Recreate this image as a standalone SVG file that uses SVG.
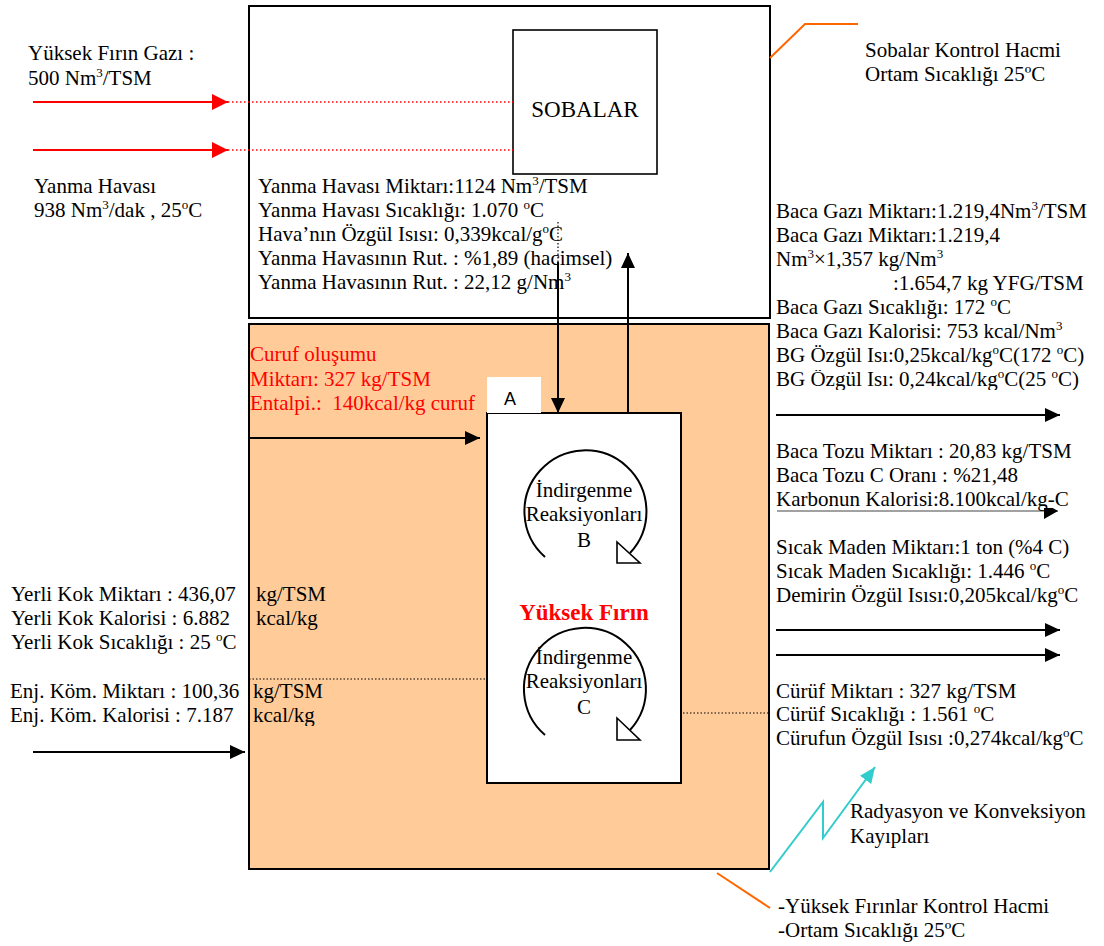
<svg xmlns="http://www.w3.org/2000/svg" width="1104" height="946" viewBox="0 0 1104 946">
<style>
text{font-family:"Liberation Serif","Times New Roman",serif;font-size:21px;fill:#000}
.s{font-size:13px}
.red{fill:#FF0000}
.box{fill:#fff;stroke:#000;stroke-width:2}
.ln{stroke:#000;stroke-width:2;fill:none}
.dot{stroke:#000;stroke-width:1.2;stroke-dasharray:1.5 2;fill:none}
.rdot{stroke:#FF0000;stroke-width:1.5;stroke-dasharray:1.5 2.5;fill:none}
.lead{stroke:#FF6600;stroke-width:2;fill:none}
</style>
<defs>
<marker id="ah" viewBox="0 0 15 14" refX="15" refY="7" markerWidth="15" markerHeight="14" orient="auto" markerUnits="userSpaceOnUse"><path d="M0,0 L15,7 L0,14 z" fill="#000"/></marker>
<marker id="rah" viewBox="0 0 16 16" refX="16" refY="8" markerWidth="16" markerHeight="16" orient="auto" markerUnits="userSpaceOnUse"><path d="M0,0 L16,8 L0,16 z" fill="#FF0000"/></marker>
<marker id="cah" viewBox="0 0 16 14" refX="16" refY="7" markerWidth="16" markerHeight="14" orient="auto" markerUnits="userSpaceOnUse"><path d="M0,0 L16,7 L0,14 z" fill="#33CCCC"/></marker>
<clipPath id="c1"><rect x="770" y="370" width="334" height="20"/></clipPath>
<clipPath id="c2"><rect x="240" y="700" width="100" height="26"/></clipPath>
<clipPath id="c3"><rect x="770" y="508" width="334" height="12"/></clipPath>
</defs>
<rect width="1104" height="946" fill="#fff"/>

<g id="sobalar-kontrol">
<rect x="249" y="6" width="521" height="312" class="box"/>
</g>
<g id="yf-kontrol">
<rect x="249" y="324" width="520" height="545" fill="#FFCC99" stroke="#000" stroke-width="2"/>
</g>
<g id="sobalar">
<rect x="513" y="30" width="144" height="144" fill="#fff" stroke="#000" stroke-width="1.6"/>
<text x="585" y="117" text-anchor="middle" style="font-size:23px">SOBALAR</text>
</g>
<g id="yuksek-firin">
<rect x="487" y="413" width="194" height="370" class="box"/>
<rect x="487" y="377" width="54" height="36" fill="#fff"/>
<text x="510" y="405" text-anchor="middle" style="font-family:'Liberation Sans',Arial,sans-serif;font-size:18px">A</text>
<text x="584" y="620" text-anchor="middle" class="red" style="font-weight:bold;font-size:23px">Yüksek Fırın</text>
</g>
<g id="reaksiyon-b">
<path d="M545,557 A61,61 0 1 1 630,553" class="ln" stroke-width="3"/>
<polygon points="617,542 617,563 640,563" fill="#fff" stroke="#000" stroke-width="1.6"/>
<text x="584" y="497" text-anchor="middle">İndirgenme</text>
<text x="584" y="521" text-anchor="middle">Reaksiyonları</text>
<text x="584" y="547" text-anchor="middle">B</text>
</g>
<g id="reaksiyon-c">
<path d="M545,735 A61,61 0 1 1 630,730" class="ln" stroke-width="3"/>
<polygon points="617,718 617,740 640,740" fill="#fff" stroke="#000" stroke-width="1.6"/>
<text x="584" y="664" text-anchor="middle">İndirgenme</text>
<text x="584" y="688" text-anchor="middle">Reaksiyonları</text>
<text x="584" y="714" text-anchor="middle">C</text>
</g>

<g id="connectors">
<line x1="33" y1="102" x2="228" y2="102" stroke="#FF0000" stroke-width="2" marker-end="url(#rah)"/>
<line x1="33" y1="150" x2="228" y2="150" stroke="#FF0000" stroke-width="2" marker-end="url(#rah)"/>
<line x1="228" y1="102" x2="513" y2="102" class="rdot"/>
<line x1="228" y1="150" x2="513" y2="150" class="rdot"/>
<line x1="558" y1="222" x2="558" y2="262" class="dot"/>
<line x1="558" y1="262" x2="558" y2="413" class="ln" marker-end="url(#ah)"/>
<line x1="628" y1="413" x2="628" y2="253" class="ln" marker-end="url(#ah)"/>
<line x1="249" y1="438" x2="480" y2="438" class="ln" marker-end="url(#ah)"/>
<line x1="776" y1="415" x2="1060" y2="415" class="ln" marker-end="url(#ah)"/>
<g clip-path="url(#c3)"><line x1="777" y1="511" x2="1058" y2="511" stroke="#444" stroke-width="1.2"/><polygon points="1044,503 1058,511 1044,519" fill="#000"/></g>
<line x1="776" y1="630" x2="1060" y2="630" class="ln" marker-end="url(#ah)"/>
<line x1="776" y1="655" x2="1060" y2="655" class="ln" marker-end="url(#ah)"/>
<line x1="33" y1="752" x2="245" y2="752" class="ln" marker-end="url(#ah)"/>
<line x1="249" y1="679" x2="487" y2="679" class="dot"/>
<line x1="683" y1="713" x2="770" y2="713" class="dot"/>
<polyline points="770,872 823,802 823,838 875,767" fill="none" stroke="#33CCCC" stroke-width="2" marker-end="url(#cah)"/>
<polyline points="770,58 805,24 858,24" class="lead"/>
<polyline points="717,873 770,908" class="lead"/>
</g>

<g id="labels-left-top">
<text x="28" y="60">Yüksek Fırın Gazı :</text>
<text x="28" y="85">500 Nm<tspan class="s" dy="-8">3</tspan><tspan dy="8">/TSM</tspan></text>
<text x="34" y="193">Yanma Havası</text>
<text x="34" y="217">938 Nm<tspan class="s" dy="-8">3</tspan><tspan dy="8">/dak , 25</tspan><tspan class="s" dy="-8">o</tspan><tspan dy="8">C</tspan></text>
</g>
<g id="labels-sobalar">
<text x="258" y="193">Yanma Havası Miktarı:1124 Nm<tspan class="s" dy="-8">3</tspan><tspan dy="8">/TSM</tspan></text>
<text x="258" y="217">Yanma Havası Sıcaklığı: 1.070 <tspan class="s" dy="-8">o</tspan><tspan dy="8">C</tspan></text>
<text x="258" y="241">Hava’nın Özgül Isısı: 0,339kcal/g<tspan class="s" dy="-8">o</tspan><tspan dy="8">C</tspan></text>
<text x="258" y="265">Yanma Havasının Rut. : %1,89 (hacimsel)</text>
<text x="258" y="289">Yanma Havasının Rut. : 22,12 g/Nm<tspan class="s" dy="-8">3</tspan></text>
</g>
<g id="labels-right-top">
<text x="865" y="57">Sobalar Kontrol Hacmi</text>
<text x="865" y="81">Ortam Sıcaklığı 25ºC</text>
</g>
<g id="labels-baca-gazi">
<text x="776" y="218">Baca Gazı Miktarı:1.219,4Nm<tspan class="s" dy="-8">3</tspan><tspan dy="8">/TSM</tspan></text>
<text x="776" y="242">Baca Gazı Miktarı:1.219,4</text>
<text x="776" y="266">Nm<tspan class="s" dy="-8">3</tspan><tspan dy="8">×1,357 kg/Nm</tspan><tspan class="s" dy="-8">3</tspan></text>
<text x="893" y="290">:1.654,7 kg YFG/TSM</text>
<text x="776" y="314">Baca Gazı Sıcaklığı: 172 <tspan class="s" dy="-8">o</tspan><tspan dy="8">C</tspan></text>
<text x="776" y="338">Baca Gazı Kalorisi: 753 kcal/Nm<tspan class="s" dy="-8">3</tspan></text>
<text x="776" y="362">BG Özgül Isı:0,25kcal/kg<tspan class="s" dy="-8">o</tspan><tspan dy="8">C(172 </tspan><tspan class="s" dy="-8">o</tspan><tspan dy="8">C)</tspan></text>
<g clip-path="url(#c1)"><text x="776" y="386">BG Özgül Isı: 0,24kcal/kg<tspan class="s" dy="-8">o</tspan><tspan dy="8">C(25 </tspan><tspan class="s" dy="-8">o</tspan><tspan dy="8">C)</tspan></text></g>
</g>
<g id="labels-baca-tozu">
<text x="776" y="458">Baca Tozu Miktarı : 20,83 kg/TSM</text>
<text x="776" y="482">Baca Tozu C Oranı : %21,48</text>
<text x="776" y="506">Karbonun Kalorisi:8.100kcal/kg-C</text>
</g>
<g id="labels-sicak-maden">
<text x="776" y="554">Sıcak Maden Miktarı:1 ton (%4 C)</text>
<text x="776" y="578">Sıcak Maden Sıcaklığı: 1.446 <tspan class="s" dy="-8">o</tspan><tspan dy="8">C</tspan></text>
<text x="776" y="602">Demirin Özgül Isısı:0,205kcal/kg<tspan class="s" dy="-8">o</tspan><tspan dy="8">C</tspan></text>
</g>
<g id="labels-curuf">
<text x="776" y="698">Cürüf Miktarı : 327 kg/TSM</text>
<text x="776" y="721">Cürüf Sıcaklığı : 1.561 <tspan class="s" dy="-8">o</tspan><tspan dy="8">C</tspan></text>
<text x="776" y="745">Cürufun Özgül Isısı :0,274kcal/kg<tspan class="s" dy="-8">o</tspan><tspan dy="8">C</tspan></text>
</g>
<g id="labels-curuf-olusumu">
<text x="250" y="361" class="red">Curuf oluşumu</text>
<text x="250" y="386" class="red">Miktarı: 327 kg/TSM</text>
<text x="250" y="410" class="red" xml:space="preserve">Entalpi.:  140kcal/kg curuf</text>
</g>
<g id="labels-kok">
<text x="11" y="601">Yerli Kok Miktarı : 436,07</text>
<text x="11" y="625">Yerli Kok Kalorisi : 6.882</text>
<text x="11" y="649">Yerli Kok Sıcaklığı : 25 <tspan class="s" dy="-8">o</tspan><tspan dy="8">C</tspan></text>
<text x="256" y="601">kg/TSM</text>
<text x="256" y="625">kcal/kg</text>
<text x="10" y="698">Enj. Köm. Miktarı : 100,36</text>
<text x="10" y="722">Enj. Köm. Kalorisi : 7.187</text>
<text x="253" y="698">kg/TSM</text>
<g clip-path="url(#c2)"><text x="253" y="722">kcal/kg</text></g>
</g>
<g id="labels-kayip">
<text x="850" y="818">Radyasyon ve Konveksiyon</text>
<text x="850" y="843">Kayıpları</text>
</g>
<g id="labels-yf-kontrol">
<text x="778" y="913">-Yüksek Fırınlar Kontrol Hacmi</text>
<text x="778" y="937">-Ortam Sıcaklığı 25ºC</text>
</g>
</svg>
